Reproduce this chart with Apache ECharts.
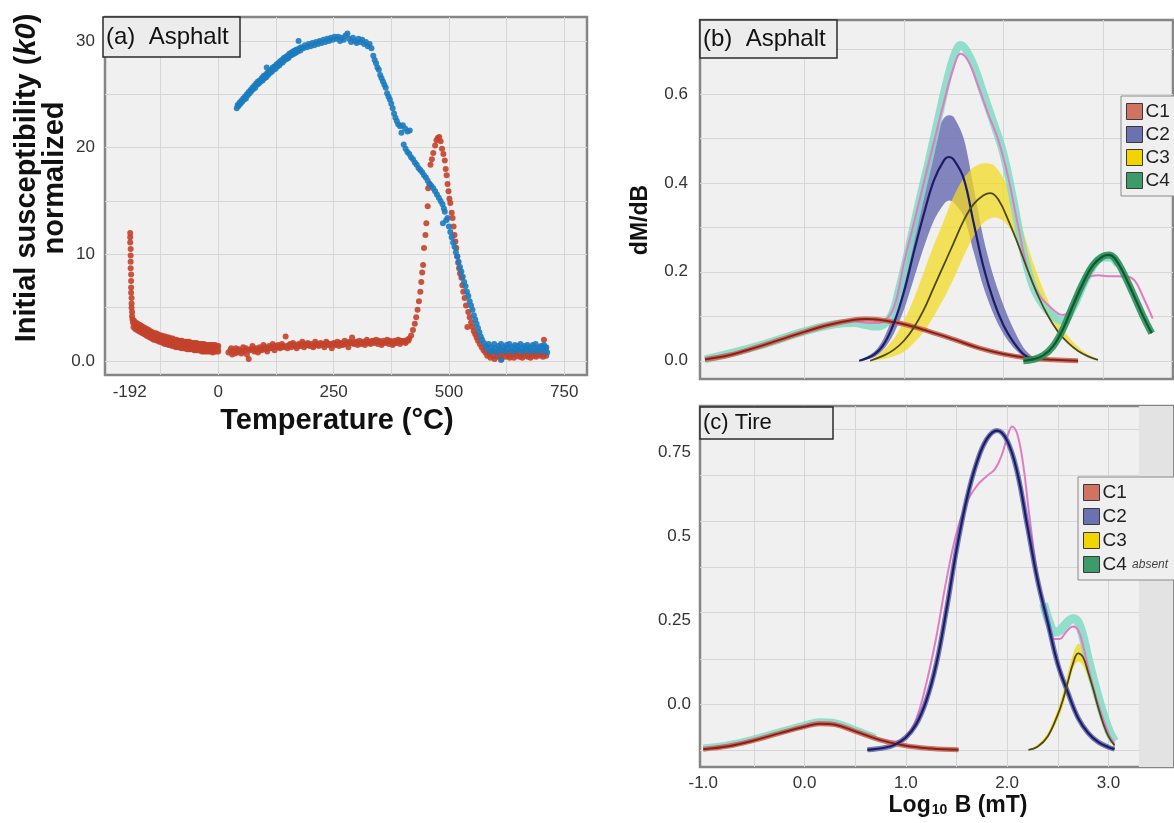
<!DOCTYPE html>
<html>
<head>
<meta charset="utf-8">
<title>Asphalt / Tire</title>
<script src="https://cdn.jsdelivr.net/npm/echarts@6/dist/echarts.min.js"></script>
<style>
  html, body { margin: 0; padding: 0; background: #fff; }
  #chart { width: 1174px; height: 823px; }
</style>
</head>
<body>
<div id="chart"></div>
<script>
var FONT = "'Liberation Sans', Arial, sans-serif";

// ---- (a) k-T curves, [temperature, k0 normalized] ----
var redPts = [
  [-191,12.0],[-191,11.6],[-191,11.1],[-190,10.5],[-190,9.9],[-190,9.3],[-190,8.7],[-189,8.1],[-189,7.5],[-189,6.9],[-189,6.4],[-188,5.9],[-188,5.4],[-188,5.0],[-187,4.6],[-187,4.2],[-186,3.9],
  [-185,3.6],[-184,3.2],[-183,3.8],[-181,3.4],[-180,3.0],[-179,3.6],[-177,3.3],[-176,2.9],[-175,3.5],[-173,3.1],[-172,2.8],[-171,3.4],[-169,3.0],[-168,2.7],[-167,3.3],[-165,2.9],[-164,2.6],[-163,3.2],[-161,2.8],[-160,2.5],[-159,3.1],[-157,2.7],[-156,2.4],[-155,3.0],[-153,2.6],[-152,2.3],[-151,2.9],[-149,2.5],[-148,2.2],[-147,2.8],[-145,2.4],[-144,2.1],[-143,2.7],[-141,2.3],[-140,2.0],[-139,2.6],[-137,2.3],[-136,2.0],[-135,2.6],[-133,2.2],[-132,1.9],[-131,2.5],[-129,2.1],[-128,1.8],[-127,2.4],[-125,2.1],[-124,1.8],[-123,2.4],[-121,2.0],[-120,1.7],[-119,2.3],[-117,2.0],[-116,1.6],[-115,2.3],[-113,1.9],[-112,1.6],[-111,2.2],[-109,1.9],[-108,1.5],[-107,2.2],[-105,1.8],[-104,1.5],[-103,2.1],[-101,1.8],[-100,1.4],[-99,2.1],[-97,1.7],[-96,1.4],[-95,2.0],[-93,1.7],[-92,1.3],[-91,2.0],[-89,1.7],[-88,1.3],[-87,1.9],[-85,1.6],[-84,1.3],[-83,1.9],[-81,1.6],[-80,1.2],[-79,1.9],[-77,1.6],[-76,1.2],[-75,1.8],[-73,1.5],[-72,1.2],[-71,1.8],[-69,1.5],[-68,1.1],[-67,1.8],[-65,1.5],[-64,1.1],[-63,1.8],[-61,1.4],[-60,1.1],[-59,1.7],[-57,1.4],[-56,1.1],[-55,1.7],[-53,1.4],[-52,1.0],[-51,1.7],[-49,1.4],[-48,1.0],[-47,1.7],[-45,1.3],[-44,1.0],[-43,1.6],[-41,1.3],[-40,1.0],[-39,1.6],[-37,1.3],[-36,0.9],[-35,1.6],[-33,1.3],[-32,0.9],[-31,1.6],[-29,1.2],[-28,0.9],[-27,1.5],[-25,1.2],[-24,0.9],[-23,1.5],[-21,1.2],[-20,0.9],[-19,1.5],[-17,1.2],[-16,0.9],[-15,1.5],[-13,1.2],[-12,0.8],[-11,1.5],[-9,1.2],[-8,0.9],[-7,1.5],[-5,1.2],[-4,0.9],[-3,1.4],[-1,1.1],[0,0.9],[0,1.4],
  [22,0.8],[26,1.0],[30,0.6],[34,0.9],[38,1.2],[42,0.8],[46,1.0],[50,0.7],[54,1.3],[58,1.0],[62,0.6],[66,0.2],[70,1.1],[74,1.4],[78,0.9],[82,1.2],[86,0.8],[90,1.3],[94,1.0],[98,1.5],[102,1.1],[106,0.9],[110,1.4],[114,1.2],[118,1.6],[122,1.0],[126,1.3],[130,1.5],[134,1.2],[138,1.6],[142,1.3],[146,2.3],[150,1.2],[154,1.5],[158,1.3],[162,1.7],[166,1.4],[170,1.2],[174,1.6],[178,1.4],[182,1.8],[186,1.3],[190,1.5],[194,1.7],[198,1.4],[202,1.6],[206,1.3],[210,1.8],[214,1.5],[218,1.4],[222,1.7],[226,1.5],[230,1.3],[234,1.8],[238,1.5],[242,1.6],[246,1.2],[250,1.7],[254,1.5],[258,1.8],[262,1.4],[266,1.7],[270,1.5],[274,1.9],[278,1.6],[282,1.3],[286,1.7],[290,2.2],[294,1.6],[298,1.8],[302,1.5],[306,1.9],[310,1.6],[314,1.8],[318,1.5],[322,2.0],[326,1.7],[330,1.6],[334,1.9],[338,1.7],[342,2.0],[346,1.6],[350,1.8],[354,1.5],[358,1.9],[362,1.7],[366,2.0],[370,1.6],[374,1.8],[378,1.5],[382,1.9],[386,1.7],[390,2.0],[394,1.6],[398,1.8],[402,1.9],[406,1.7],[410,2.0],[414,2.1],[418,2.4],
  [28,1.2],[36,0.7],[44,1.1],[52,0.9],[60,1.2],[68,1.0],[76,1.1],[84,1.0],[92,1.1],[100,1.3],[108,1.2],[116,1.3],[124,1.4],[132,1.3],[140,1.4],[148,1.4],[156,1.6],[164,1.5],[172,1.4],[180,1.6],[188,1.6],[196,1.5],[204,1.4],[212,1.6],[220,1.6],[228,1.6],[236,1.7],[244,1.5],[252,1.6],[260,1.6],[268,1.6],[276,1.7],[284,1.8],[292,1.7],[300,1.7],[308,1.7],[316,1.7],[324,1.8],[332,1.8],[340,1.8],[348,1.9],[356,1.7],[364,1.8],[372,1.9],[380,1.7],[388,1.8],[396,1.9],[404,1.8],[412,1.9],
  [422,2.9],[426,3.5],[429,4.1],[432,4.8],[435,5.6],[438,6.5],[440,7.4],[442,8.3],[444,9.0],[446,10.6],[449,11.8],[451,12.9],[454,14.5],[455,16.2],[458,16.6],[460,18.4],[463,18.9],[466,19.5],[470,20.2],[473,20.7],[476,20.9],[479,21.0],[482,20.6],[485,19.9],[488,19.4],[491,18.8],[493,18.0],[495,17.4],[497,16.6],[499,15.9],[501,15.2],[503,14.8],[506,13.9],[508,13.4],[510,12.6],[512,11.8],[514,11.2],[516,10.6],[518,9.8],[520,9.2],[522,8.7],[524,8.2],[527,7.8],[529,7.1],[531,6.5],[534,5.9],[537,5.2],[540,3.2],[542,4.6],[545,4.1],[548,3.6],[551,3.2],[554,2.8],[557,2.5],[560,2.2],[563,1.9],[567,1.6],[571,1.3],[575,1.0],[579,0.8],[583,0.5],
  [587,0.7],[590,0.3],[593,0.9],[596,0.5],[599,0.2],[602,0.8],[605,0.4],[608,0.9],[611,0.5],[614,0.2],[617,0.7],[620,1.0],[623,0.4],[626,0.8],[629,0.5],[632,0.3],[635,0.9],[638,0.6],[641,0.3],[644,0.8],[647,0.5],[650,1.0],[653,0.4],[656,0.7],[659,0.3],[662,0.8],[665,0.5],[668,0.9],[671,0.4],[674,0.7],[677,0.3],[680,0.8],[683,0.5],[686,0.9],[689,0.4],[692,0.6],[695,1.0],[698,0.5],[701,0.8],[704,0.4],[706,2.0],[708,0.7],[710,1.2],[711,0.5]
];
var bluePts = [
  [40,23.7],[42,24.0],[44,23.9],[46,24.2],[48,24.1],[50,24.4],[52,24.3],[54,24.6],[56,24.5],[58,24.8],[60,24.6],[62,25.0],[64,24.9],[66,25.2],[68,25.1],[70,25.4],[72,25.3],[74,25.6],[76,25.5],[78,25.8],[80,25.6],[82,26.0],[84,25.9],[86,26.2],[88,26.0],[90,26.3],[92,26.2],[94,26.5],[96,26.3],[98,26.7],[100,26.5],[102,26.8],[104,26.6],[105,27.5],[106,27.0],[108,26.8],[110,27.1],[112,27.0],[114,27.3],[116,27.1],[118,27.5],[120,27.3],[122,27.6],[124,27.4],[126,27.8],[128,27.6],[130,27.9],[132,27.7],[134,28.1],[136,27.9],[138,28.2],[140,28.0],[142,28.4],[144,28.2],[146,28.5],[148,28.3],[150,28.6],[152,28.4],[154,28.8],[156,28.6],[158,28.9],[160,28.7],[162,29.0],[164,28.8],[166,29.1],[168,28.9],[170,29.2],[172,29.0],[174,30.0],[176,29.3],[178,29.1],[180,29.4],[184,29.3],[188,29.6],[192,29.4],[196,29.7],[200,29.5],[204,29.8],[208,29.6],[212,29.9],[216,29.7],[220,30.0],[224,29.8],[228,30.1],[232,29.9],[236,30.2],[240,30.0],[244,30.3],[248,30.1],[252,30.4],[256,30.2],[260,30.4],[264,30.0],[268,30.3],[272,30.1],[276,30.5],[280,30.7],[284,30.2],[288,29.9],[292,30.3],[296,30.0],[300,29.8],[304,30.2],[308,29.9],[312,30.1],[316,29.7],[320,29.9],[324,29.5],[328,29.7],[332,29.3],
  [336,28.6],[339,28.2],[342,27.9],[345,27.5],[348,27.3],[351,26.8],[354,26.5],[357,26.2],[360,25.9],[363,25.6],[366,25.1],[369,24.8],[372,24.5],[375,24.1],[378,23.7],[381,23.2],[384,22.8],[387,22.5],[390,22.2],[394,22.0],[397,21.4],[400,22.1],[405,21.8],[410,21.5],[415,21.6],[402,20.3],[406,19.9],[410,19.6],[414,19.4],[418,19.1],[422,18.9],[426,18.6],[430,18.4],[434,18.1],[438,17.9],[442,17.7],[446,17.4],[450,17.2],[454,16.9],[458,16.6],[462,16.4],[466,16.2],[470,15.9],[474,15.6],[478,15.3],[482,15.0],[486,14.7],[489,14.3],[491,14.0],[487,12.9],[494,13.2],[497,13.4],[500,12.6],[503,12.1],[506,11.6],[509,11.1],[512,10.7],[515,10.2],[518,9.8],[521,9.3],[524,8.8],[527,8.4],[530,7.9],[533,7.4],[536,7.0],[539,6.5],[542,6.1],[545,5.6],[548,5.2],[551,4.8],[554,4.3],[557,3.9],[560,3.5],[563,3.1],[566,2.7],[569,2.3],[572,2.0],[576,1.7],[580,1.4],
  [583,1.2],[586,1.6],[589,0.9],[592,1.3],[595,1.0],[598,1.6],[601,1.2],[604,0.8],[607,1.4],[610,1.1],[613,1.6],[616,1.0],[619,1.3],[622,0.9],[625,1.5],[628,1.2],[631,1.6],[634,1.0],[637,1.3],[640,0.9],[643,1.5],[646,1.1],[649,1.4],[652,1.0],[655,1.6],[658,1.2],[661,0.9],[664,1.4],[667,1.1],[670,1.5],[673,1.0],[676,1.3],[679,0.9],[682,1.5],[685,1.2],[688,1.6],[691,1.0],[694,1.3],[697,0.9],[700,1.4],[703,1.1],[706,1.5],[709,1.0],[711,1.3],[713,0.8],[613,0.1]
];

// ---- (b) Asphalt unmixing, [log10 B, dM/dB] ----
var bTeal = [[-1.0,0.003],[-0.5,0.031],[0,0.066],[0.3,0.082],[0.5,0.085],[0.62,0.08],[0.72,0.077],[0.8,0.082],[0.88,0.105],[0.95,0.16],[1.05,0.255],[1.15,0.355],[1.25,0.45],[1.35,0.55],[1.45,0.645],[1.52,0.695],[1.57,0.71],[1.62,0.7],[1.7,0.665],[1.8,0.6],[1.9,0.535],[2.0,0.465],[2.1,0.36],[2.2,0.245],[2.3,0.165],[2.4,0.125],[2.5,0.1],[2.6,0.09],[2.7,0.12],[2.8,0.17],[2.9,0.212],[3.0,0.232],[3.08,0.232],[3.15,0.215]];
var bPink = [[-1.0,0.003],[-0.5,0.03],[0,0.065],[0.3,0.082],[0.5,0.088],[0.65,0.085],[0.75,0.085],[0.85,0.1],[0.92,0.135],[1.0,0.22],[1.1,0.31],[1.2,0.4],[1.3,0.49],[1.4,0.58],[1.5,0.66],[1.57,0.69],[1.65,0.672],[1.75,0.615],[1.85,0.553],[1.95,0.495],[2.05,0.41],[2.15,0.3],[2.25,0.2],[2.35,0.15],[2.45,0.125],[2.55,0.106],[2.6,0.103],[2.68,0.118],[2.78,0.165],[2.86,0.188],[2.95,0.192],[3.05,0.19],[3.15,0.19],[3.25,0.189],[3.32,0.18],[3.4,0.145],[3.5,0.095]];
var bC1 = [[-1.0,0.003],[-0.75,0.013],[-0.5,0.029],[-0.25,0.047],[0,0.065],[0.25,0.081],[0.5,0.092],[0.62,0.094],[0.75,0.092],[1.0,0.082],[1.25,0.066],[1.5,0.048],[1.75,0.029],[2.0,0.015],[2.25,0.006],[2.5,0.002],[2.75,0.0]];
var bC2 = [[0.55,0.0],[0.7,0.014],[0.8,0.038],[0.9,0.085],[1.0,0.155],[1.1,0.245],[1.2,0.33],[1.3,0.405],[1.4,0.45],[1.45,0.458],[1.5,0.452],[1.6,0.41],[1.7,0.31],[1.8,0.21],[1.9,0.135],[2.0,0.08],[2.1,0.042],[2.2,0.015],[2.3,0.003]];
// [x, low, high]
var bC2Band = [[0.55,0,0],[0.7,0.008,0.02],[0.8,0.027,0.052],[0.9,0.062,0.11],[1.0,0.115,0.2],[1.1,0.185,0.31],[1.2,0.255,0.415],[1.3,0.315,0.5],[1.4,0.352,0.545],[1.45,0.36,0.552],[1.5,0.356,0.548],[1.6,0.325,0.5],[1.7,0.245,0.39],[1.8,0.165,0.275],[1.9,0.105,0.19],[2.0,0.06,0.125],[2.1,0.03,0.072],[2.2,0.01,0.03],[2.3,0.002,0.006]];
var bC3 = [[0.66,0.0],[0.8,0.012],[0.9,0.025],[1.0,0.045],[1.1,0.075],[1.2,0.115],[1.3,0.165],[1.4,0.215],[1.5,0.265],[1.6,0.315],[1.7,0.352],[1.8,0.372],[1.87,0.377],[1.95,0.362],[2.05,0.315],[2.15,0.26],[2.25,0.2],[2.35,0.145],[2.45,0.1],[2.55,0.065],[2.65,0.04],[2.75,0.022],[2.85,0.01],[2.95,0.002]];
var bC3Band = [[0.66,0,0],[0.8,0.004,0.025],[0.9,0.01,0.05],[1.0,0.02,0.09],[1.1,0.04,0.14],[1.2,0.065,0.2],[1.3,0.1,0.26],[1.4,0.14,0.315],[1.5,0.185,0.37],[1.6,0.235,0.41],[1.7,0.28,0.435],[1.8,0.31,0.444],[1.9,0.322,0.44],[2.0,0.315,0.41],[2.1,0.285,0.36],[2.2,0.235,0.29],[2.3,0.18,0.22],[2.4,0.13,0.16],[2.5,0.088,0.11],[2.6,0.055,0.07],[2.7,0.032,0.042],[2.8,0.016,0.022],[2.9,0.006,0.009],[2.95,0.002,0.003]];
var bC4 = [[2.2,0.0],[2.3,0.003],[2.4,0.012],[2.5,0.033],[2.6,0.072],[2.7,0.125],[2.8,0.175],[2.9,0.215],[3.0,0.235],[3.06,0.238],[3.12,0.23],[3.2,0.2],[3.3,0.152],[3.4,0.102],[3.49,0.062]];

// ---- (c) Tire unmixing (values in the printed tick units) ----
var cTealA = [[-1.0,-0.128],[-0.75,-0.118],[-0.5,-0.101],[-0.25,-0.08],[0,-0.06],[0.15,-0.05],[0.3,-0.053],[0.5,-0.074],[0.7,-0.097]];
var cTealB = [[2.36,0.3],[2.42,0.24],[2.47,0.215],[2.52,0.22],[2.58,0.24],[2.65,0.255],[2.7,0.245],[2.75,0.2],[2.8,0.135],[2.9,0.02],[3.0,-0.075],[3.06,-0.11]];
var cPink = [[-1.0,-0.131],[-0.5,-0.104],[0,-0.062],[0.15,-0.052],[0.3,-0.056],[0.5,-0.077],[0.75,-0.103],[0.9,-0.11],[1.0,-0.095],[1.1,-0.045],[1.2,0.06],[1.3,0.2],[1.4,0.37],[1.5,0.51],[1.6,0.6],[1.7,0.65],[1.8,0.68],[1.88,0.7],[1.95,0.745],[2.0,0.795],[2.05,0.827],[2.1,0.805],[2.16,0.71],[2.22,0.56],[2.3,0.385],[2.4,0.245],[2.46,0.195],[2.52,0.195],[2.58,0.215],[2.65,0.232],[2.7,0.222],[2.75,0.175],[2.8,0.11],[2.9,0.0],[3.0,-0.085],[3.06,-0.117]];
var cC1 = [[-1.0,-0.133],[-0.75,-0.124],[-0.5,-0.107],[-0.25,-0.086],[0,-0.066],[0.15,-0.057],[0.3,-0.06],[0.5,-0.08],[0.75,-0.106],[1.0,-0.123],[1.25,-0.131],[1.52,-0.135]];
var cC2 = [[0.62,-0.135],[0.8,-0.128],[0.9,-0.118],[1.0,-0.098],[1.1,-0.06],[1.2,0.01],[1.3,0.12],[1.4,0.28],[1.5,0.46],[1.6,0.61],[1.7,0.72],[1.8,0.79],[1.9,0.815],[2.0,0.785],[2.1,0.69],[2.2,0.53],[2.3,0.37],[2.4,0.245],[2.5,0.12],[2.6,0.035],[2.7,-0.04],[2.8,-0.085],[2.9,-0.112],[3.0,-0.127],[3.06,-0.133]];
var cC3 = [[2.21,-0.135],[2.3,-0.126],[2.4,-0.095],[2.5,-0.03],[2.55,0.013],[2.6,0.068],[2.65,0.122],[2.7,0.152],[2.75,0.14],[2.8,0.095],[2.85,0.045],[2.9,-0.01],[2.95,-0.058],[3.0,-0.095],[3.06,-0.122]];
var cC3Band = [[2.21,-0.135,-0.135],[2.3,-0.128,-0.12],[2.4,-0.102,-0.085],[2.5,-0.045,-0.015],[2.55,-0.005,0.035],[2.6,0.05,0.095],[2.65,0.105,0.15],[2.7,0.128,0.181],[2.75,0.115,0.168],[2.8,0.075,0.118],[2.85,0.028,0.065],[2.9,-0.025,0.005],[2.95,-0.07,-0.05],[3.0,-0.102,-0.088],[3.06,-0.126,-0.118]];

// ---- ticks ----
var aXTicks = [-125, 0, 125, 250, 375, 500, 625, 750];
var aXLabels = [-192, 0, 250, 500, 750];
var aYTicks = [0, 5, 10, 15, 20, 25, 30];
var aYLabels = [0, 10, 20, 30];
var bXTicks = [0, 1, 2, 3];
var bYTicks = [0, 0.1, 0.2, 0.3, 0.4, 0.5, 0.6, 0.7];
var bYLabels = [0, 0.2, 0.4, 0.6];
var cXTicks = [-0.5, 0, 0.5, 1, 1.5, 2, 2.5, 3];
var cXLabels = [-1, 0, 1, 2, 3];
var cYTicks = [-0.136, 0, 0.136, 0.273, 0.409, 0.545, 0.682, 0.818];
var cYLabels = [0, 0.25, 0.5, 0.75];
var legendNames = ['C1', 'C2', 'C3', 'C4'];
var legendColors = ['#d07360', '#6b72b2', '#f2d400', '#3d9a69'];

var chart = echarts.init(document.getElementById('chart'));

function axis(gridIndex, min, max, ticks, labels, fmt, margin) {
  return {
    type: 'value', gridIndex: gridIndex, min: min, max: max,
    axisLine: { show: false },
    axisTick: { show: false, customValues: ticks },
    splitLine: { show: true, lineStyle: { color: '#d6d6d6', width: 1 } },
    axisLabel: {
      show: !!labels, customValues: labels || [], formatter: fmt,
      fontSize: 17, color: '#333', margin: margin, fontFamily: FONT
    }
  };
}

function line(name, data, ax, color, width, opacity) {
  return {
    type: 'line', name: name, data: data, xAxisIndex: ax, yAxisIndex: ax,
    showSymbol: false, symbol: 'none', smooth: 0.4, silent: true,
    lineStyle: { color: color, width: width, opacity: opacity == null ? 1 : opacity }
  };
}

function band(name, rows, ax, color, opacity) {
  return {
    type: 'custom', name: name, xAxisIndex: ax, yAxisIndex: ax, silent: true,
    data: [[rows[0][0], rows[0][1]]],
    renderItem: function (params, api) {
      var pts = [];
      rows.forEach(function (r) { pts.push(api.coord([r[0], r[2]])); });
      rows.slice().reverse().forEach(function (r) { pts.push(api.coord([r[0], r[1]])); });
      return { type: 'polygon', shape: { points: pts, smooth: 0.3 }, style: { fill: color, opacity: opacity } };
    }
  };
}

function legendBox(left, top, gap, fmt) {
  return {
    orient: 'vertical', left: left, top: top, icon: 'rect', selectedMode: false,
    itemWidth: 16, itemHeight: 16, itemGap: gap,
    backgroundColor: '#efefef', borderColor: '#8a8a8a', borderWidth: 1, borderRadius: 0,
    padding: [6, 60, 6, 5],
    formatter: fmt,
    textStyle: { fontSize: 19, color: '#222', fontFamily: FONT, padding: [0, 0, 0, -2],
      rich: { ab: { fontSize: 12, fontStyle: 'italic', color: '#444', fontFamily: FONT } } },
    data: legendNames.map(function (n, i) {
      return { name: n, itemStyle: { color: legendColors[i], borderColor: '#3a3a3a', borderWidth: 1 } };
    })
  };
}

function titleBox(x, y, w, h, text, size) {
  return {
    type: 'group', z: 100,
    children: [
      { type: 'rect', z: 100, shape: { x: x, y: y, width: w, height: h },
        style: { fill: '#ececec', stroke: '#2b2b2b', lineWidth: 1.5 } },
      { type: 'text', z: 101, x: x + 3, y: y + h / 2,
        style: { text: text, fontSize: size, fontFamily: FONT, fill: '#111',
          align: 'left', verticalAlign: 'middle', textAlign: 'left', textVerticalAlign: 'middle' } }
    ]
  };
}

function label(x, y, text, size, rot, rich) {
  return {
    type: 'text', x: x, y: y, rotation: rot || 0, z: 100,
    style: { text: text, fontSize: size, fontWeight: 'bold', fontFamily: FONT, fill: '#111',
      align: 'center', verticalAlign: 'middle', textAlign: 'center', textVerticalAlign: 'middle',
      rich: rich || {} }
  };
}

var gridStyle = { show: true, backgroundColor: '#f0f0f0', borderColor: '#858585', borderWidth: 2.5 };

var option = {
  animation: false,
  textStyle: { fontFamily: FONT },
  grid: [
    Object.assign({ left: 105, top: 17, width: 482, height: 358 }, gridStyle),
    Object.assign({ left: 700, top: 20, width: 473, height: 359 }, gridStyle),
    Object.assign({ left: 700, top: 406, width: 473, height: 361 }, gridStyle)
  ],
  xAxis: [
    axis(0, -245.6, 799.3, aXTicks, aXLabels, function (v) { return String(v); }, 9),
    axis(1, -1.05, 3.704, bXTicks, null, null, 8),
    axis(2, -1.032, 3.637, cXTicks, cXLabels, function (v) { return v.toFixed(1); }, 8)
  ],
  yAxis: [
    axis(0, -1.31, 32.24, aYTicks, aYLabels, function (v) { return v === 0 ? '0.0' : String(v); }, 10),
    axis(1, -0.041, 0.766, bYTicks, bYLabels, function (v) { return v.toFixed(1); }, 12),
    axis(2, -0.186, 0.888, cYTicks, cYLabels, function (v) { return v === 0 ? '0.0' : String(v); }, 9)
  ],
  legend: [
    legendBox(1121, 96, 4, function (n) { return n; }),
    legendBox(1078, 477, 5, function (n) { return n === 'C4' ? 'C4 {ab|absent}' : n; })
  ],
  graphic: [
    label(27, 178, 'Initial susceptibility ({it|k0})', 29, Math.PI / 2,
      { it: { fontStyle: 'italic', fontWeight: 'bold', fontSize: 29, fontFamily: FONT, fill: '#111' } }),
    label(55, 178, 'normalized', 29, Math.PI / 2),
    label(337, 421, 'Temperature (\u00B0C)', 29, 0),
    label(641, 220, 'dM/dB', 23, Math.PI / 2),
    label(958, 806, 'Log{sub|10} B (mT)', 23, 0,
      { sub: { fontSize: 14, fontWeight: 'bold', fontFamily: FONT, fill: '#111', padding: [9, 1, 0, 1] } }),
    titleBox(103, 17, 137, 40, '(a)  Asphalt', 24),
    titleBox(700, 20, 137, 38, '(b)  Asphalt', 24),
    titleBox(700, 407, 133, 32, '(c) Tire', 22)
  ],
  series: [
    { type: 'scatter', name: 'heating', data: redPts, xAxisIndex: 0, yAxisIndex: 0, silent: true,
      symbolSize: 6, itemStyle: { color: '#c3432b', opacity: 0.9 } },
    { type: 'scatter', name: 'cooling', data: bluePts, xAxisIndex: 0, yAxisIndex: 0, silent: true,
      symbolSize: 6, itemStyle: { color: '#1c7bbf', opacity: 0.9 } },

    line('measured b', bTeal, 1, '#86dcc7', 8, 0.9),
    line('sum b', bPink, 1, '#e07cc4', 2),
    band('C2 band b', bC2Band, 1, '#6e71b4', 0.85),
    band('C3 band b', bC3Band, 1, '#f4da1e', 0.72),
    line('C1 band b', bC1, 1, '#c46a58', 5, 0.9),
    line('C1', bC1, 1, '#8a1f16', 2),
    line('C2', bC2, 1, '#1b1d66', 2.2),
    line('C3', bC3, 1, '#4d4912', 1.8),
    line('C4 band b', bC4, 1, '#2f8f5a', 7, 0.9),
    line('C4', bC4, 1, '#0b5b2d', 2.2),

    Object.assign(line('measured c', cTealA, 2, '#86dcc7', 6, 0.9), {
      markArea: { silent: true, itemStyle: { color: '#e3e3e3' }, data: [[{ xAxis: 3.3 }, { xAxis: 3.637 }]] }
    }),
    line('measured c2', cTealB, 2, '#86dcc7', 9, 0.9),
    line('sum c', cPink, 2, '#e07cc4', 2),
    line('C2 band c', cC2, 2, '#5f65aa', 5, 0.85),
    band('C3 band c', cC3Band, 2, '#f4da1e', 0.8),
    line('C1 band c', cC1, 2, '#c46a58', 5, 0.9),
    line('C1', cC1, 2, '#8a1f16', 2),
    line('C2', cC2, 2, '#1b1d66', 2.2),
    line('C3', cC3, 2, '#4d4912', 1.8)
  ]
};

chart.setOption(option);
</script>
</body>
</html>
